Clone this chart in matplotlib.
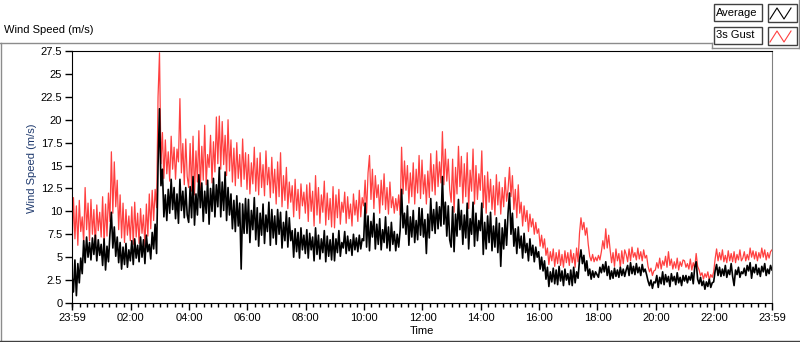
import numpy as np
import matplotlib.pyplot as plt
from matplotlib.lines import Line2D
from matplotlib.patches import Rectangle

plt.rcParams['font.family'] = ['Liberation Sans', 'DejaVu Sans']
plt.rcParams['font.size'] = 8

# wind speed (m/s), one reading every 3 minutes from 23:59 to 23:59 (one row per hour)
gust = [
    5.6, 11.5, 7.0, 10.6, 6.3, 11.2, 7.8, 9.4, 6.6, 12.6, 8.0, 10.9, 6.8, 11.3, 7.5, 10.2, 6.1, 10.7, 7.9, 9.9,
    7.2, 11.6, 6.4, 10.8, 7.3, 12.0, 8.9, 16.5, 9.8, 15.4, 10.5, 13.4, 8.0, 11.8, 7.1, 10.9, 6.6, 10.2, 7.4, 9.5,
    6.8, 10.5, 6.4, 11.0, 7.2, 9.8, 6.5, 10.3, 7.6, 9.6, 6.2, 10.8, 7.3, 11.9, 8.1, 12.3, 9.0, 12.4, 10.4, 22.5,
    27.3, 15.2, 18.6, 13.6, 17.8, 14.1, 16.5, 13.3, 18.2, 14.6, 17.0, 13.5, 16.8, 15.4, 22.3, 14.2, 17.4, 12.9, 17.9, 13.8,
    12.6, 17.4, 12.2, 18.2, 11.8, 16.6, 13.2, 18.8, 12.4, 17.1, 13.4, 19.4, 12.9, 16.2, 14.8, 18.3, 13.1, 17.6, 14.3, 20.3,
    15.2, 20.4, 14.6, 19.8, 15.1, 18.3, 13.9, 20.0, 14.4, 17.8, 13.2, 16.9, 12.8, 17.5, 13.6, 16.2, 12.7, 17.9, 13.5, 16.4,
    12.4, 16.2, 11.9, 15.3, 13.0, 17.0, 12.2, 15.8, 11.8, 16.4, 12.6, 15.1, 11.7, 16.6, 12.9, 14.8, 11.5, 15.9, 12.0, 14.6,
    10.8, 15.4, 11.6, 16.4, 10.5, 13.9, 11.2, 14.8, 10.3, 13.2, 11.0, 12.8, 9.4, 13.5, 10.1, 12.4, 9.2, 13.0, 10.6, 12.1,
    9.8, 12.9, 8.9, 13.1, 10.0, 12.2, 8.4, 13.9, 9.6, 12.6, 8.7, 11.8, 9.9, 13.3, 8.5, 12.0, 9.1, 11.4, 8.3, 12.7,
    8.2, 11.8, 9.3, 12.4, 8.6, 11.0, 9.9, 12.1, 8.7, 11.6, 9.2, 10.8, 8.4, 11.9, 9.6, 11.2, 8.9, 12.3, 9.4, 11.5,
    10.6, 13.4, 9.8, 14.2, 16.1, 11.3, 14.6, 10.3, 13.9, 11.5, 12.9, 9.8, 13.4, 10.7, 14.1, 10.2, 12.6, 9.7, 13.2, 10.4,
    11.6, 9.8, 11.4, 10.1, 11.8, 9.6, 17.0, 11.9, 15.5, 12.3, 15.0, 10.9, 14.2, 11.6, 15.3, 10.8, 14.6, 12.0, 16.1, 11.4,
    15.6, 11.9, 14.0, 10.8, 14.4, 11.5, 16.3, 12.2, 15.1, 11.8, 16.6, 12.7, 15.4, 13.1, 18.7, 12.9, 16.8, 13.3, 15.7, 12.4,
    11.0, 15.7, 9.9, 14.8, 11.9, 17.1, 12.7, 16.0, 10.9, 15.2, 11.6, 16.4, 10.3, 14.5, 12.2, 16.8, 10.8, 15.0, 11.3, 14.1,
    12.3, 16.6, 10.4, 13.9, 9.8, 14.3, 11.0, 13.5, 10.2, 12.8, 9.6, 14.0, 10.7, 13.2, 9.7, 12.6, 10.5, 13.7, 11.1, 12.4,
    14.8, 11.6, 13.9, 10.2, 12.4, 9.3, 12.9, 9.8, 11.0, 8.4, 10.6, 8.9, 10.1, 7.8, 9.7, 8.3, 9.2, 7.5, 8.8, 7.6,
    8.1, 6.2, 7.4, 6.0, 7.0, 5.2, 6.0, 4.2, 5.6, 4.6, 5.9, 4.0, 5.5, 4.3, 5.8, 4.1, 5.3, 3.9, 5.7, 4.4,
    5.5, 4.1, 5.8, 4.4, 5.4, 3.9, 6.0, 4.5, 7.6, 9.3, 8.0, 8.8, 7.4, 8.2, 6.4, 5.1, 4.6, 5.3, 4.5, 5.0,
    4.6, 5.2, 4.7, 5.6, 6.8, 5.9, 8.1, 6.0, 7.4, 5.8, 4.4, 5.5, 4.0, 5.9, 4.6, 5.4, 3.9, 5.7, 4.3, 5.8,
    5.3, 4.5, 5.9, 4.6, 6.1, 5.0, 5.5, 4.7, 6.0, 4.8, 5.6, 4.6, 5.8, 4.9, 5.2, 4.0, 3.4, 3.8, 3.0, 3.5,
    3.6, 4.4, 3.8, 4.9, 3.7, 4.6, 4.1, 5.1, 3.9, 5.6, 4.1, 4.8, 3.7, 4.5, 3.8, 4.9, 3.6, 4.5, 4.0, 4.7,
    4.6, 3.9, 4.3, 3.7, 4.8, 3.6, 4.4, 3.8, 5.4, 4.0, 3.6, 3.0, 3.3, 2.6, 3.2, 2.8, 3.4, 2.5, 3.1, 2.8,
    3.4, 4.8, 5.9, 4.6, 5.5, 4.7, 5.8, 4.5, 5.2, 4.4, 5.7, 4.6, 5.4, 4.5, 5.6, 4.4, 5.3, 4.7, 5.8, 4.6,
    4.9, 5.6, 4.6, 5.3, 4.7, 6.0, 5.0, 5.7, 4.8, 5.6, 4.6, 5.5, 4.9, 6.0, 5.0, 5.8, 4.7, 5.5, 4.9, 5.6, 5.8,
]
average = [
    3.0, 1.2, 4.7, 0.8, 4.3, 2.2, 4.9, 3.2, 6.8, 4.4, 7.2, 5.0, 6.6, 4.7, 7.1, 5.3, 7.4, 4.6, 6.9, 5.2,
    6.4, 4.1, 7.0, 3.6, 6.2, 4.5, 7.5, 9.9, 6.0, 8.3, 5.1, 7.2, 4.4, 6.6, 3.7, 6.1, 4.2, 6.5, 3.9, 5.8,
    4.6, 6.8, 4.2, 7.0, 4.9, 6.3, 4.5, 7.2, 5.0, 6.9, 4.3, 7.4, 5.6, 6.4, 4.8, 7.7, 5.9, 8.6, 5.4, 15.0,
    21.2, 12.8, 14.6, 9.4, 11.8, 9.0, 12.4, 9.8, 13.5, 10.2, 12.6, 9.2, 11.9, 8.7, 13.5, 10.1, 12.2, 9.3, 12.6, 9.6,
    8.8, 12.7, 9.3, 13.8, 8.5, 11.9, 9.6, 14.0, 10.4, 13.1, 8.9, 12.2, 9.8, 13.4, 8.6, 12.5, 10.0, 13.6, 9.4, 12.9,
    10.5, 14.8, 9.4, 13.2, 10.1, 14.3, 9.0, 12.6, 9.6, 11.9, 8.1, 11.2, 7.8, 11.7, 8.4, 10.9, 3.7, 10.8, 7.6, 11.4,
    7.6, 11.3, 6.6, 10.1, 8.0, 11.5, 6.9, 10.4, 6.2, 9.8, 7.4, 10.8, 6.5, 9.6, 7.8, 11.0, 6.3, 10.2, 7.1, 9.5,
    6.4, 10.2, 7.5, 9.9, 6.0, 8.8, 6.8, 10.0, 6.1, 9.3, 6.8, 7.9, 5.0, 8.1, 5.6, 7.7, 4.9, 8.2, 5.8, 7.4,
    5.4, 8.0, 4.9, 7.6, 5.8, 7.2, 4.6, 8.2, 5.3, 7.4, 4.8, 7.0, 5.5, 7.9, 4.5, 7.3, 5.1, 6.9, 4.7, 7.6,
    4.6, 7.0, 5.5, 7.9, 5.1, 6.6, 6.0, 7.8, 5.4, 7.3, 5.7, 6.9, 5.2, 7.5, 5.8, 7.1, 5.6, 7.4, 5.9, 7.0,
    6.8, 10.9, 6.1, 9.5, 5.7, 8.9, 7.2, 9.8, 5.9, 8.6, 6.4, 9.2, 5.8, 8.0, 6.6, 9.4, 6.0, 8.3, 5.7, 8.8,
    6.4, 7.8, 5.7, 7.5, 6.1, 7.9, 12.4, 8.2, 9.8, 7.5, 10.6, 6.3, 9.4, 7.2, 10.1, 6.6, 9.0, 6.9, 10.4, 7.4,
    10.3, 7.2, 9.1, 5.4, 9.7, 7.1, 11.4, 7.9, 10.2, 7.6, 11.0, 8.1, 10.5, 8.4, 13.8, 8.6, 11.0, 7.3, 10.6, 6.9,
    6.1, 10.5, 5.6, 9.7, 7.3, 11.3, 8.0, 10.1, 6.4, 9.6, 7.1, 10.9, 5.9, 9.2, 7.5, 11.0, 6.2, 9.8, 6.8, 9.0,
    7.9, 10.9, 5.3, 8.8, 5.9, 9.5, 6.6, 9.9, 5.7, 8.4, 6.1, 9.3, 5.5, 8.7, 4.0, 8.2, 5.9, 9.1, 6.3, 9.8,
    12.0, 7.5, 9.8, 6.2, 8.1, 5.4, 8.3, 6.0, 7.3, 4.9, 7.6, 5.5, 6.5, 4.6, 7.0, 5.2, 6.3, 4.5, 6.1, 5.0,
    5.6, 3.7, 5.0, 3.5, 4.6, 2.6, 3.9, 1.8, 3.4, 2.3, 3.8, 2.1, 3.6, 2.0, 4.0, 2.4, 3.5, 1.9, 3.7, 2.5,
    3.2, 2.0, 3.6, 1.9, 3.9, 2.2, 3.4, 2.7, 4.7, 5.8, 4.3, 5.2, 3.5, 4.6, 3.0, 3.7, 2.6, 3.5, 2.8, 3.4,
    3.1, 2.8, 3.9, 3.3, 4.2, 3.4, 4.5, 3.0, 4.0, 2.6, 3.5, 2.7, 3.8, 2.9, 3.6, 2.8, 3.9, 3.0, 3.7, 2.9,
    3.6, 4.1, 3.0, 4.4, 3.2, 4.0, 3.1, 4.3, 3.3, 3.9, 3.0, 4.2, 3.4, 3.7, 3.1, 2.4, 1.9, 2.5, 1.6, 2.3,
    2.2, 3.0, 1.7, 2.8, 2.1, 3.4, 2.0, 3.1, 2.3, 2.9, 1.8, 3.2, 2.4, 2.9, 2.0, 3.3, 2.2, 2.8, 1.9, 3.0,
    2.4, 3.0, 2.2, 2.9, 2.5, 3.3, 2.1, 3.9, 4.5, 2.6, 2.1, 2.8, 1.9, 2.4, 1.5, 2.3, 1.8, 2.6, 1.7, 2.2,
    2.3, 3.5, 4.2, 3.0, 3.9, 2.9, 3.7, 3.0, 4.1, 2.8, 3.6, 3.1, 4.3, 2.9, 1.9, 3.6, 3.1, 3.9, 2.8, 3.4,
    3.2, 3.8, 3.0, 4.1, 3.5, 4.4, 2.7, 3.9, 3.3, 4.2, 3.1, 3.8, 2.9, 4.0, 3.4, 4.3, 3.0, 3.7, 3.2, 4.1, 3.6,
]

tick_labels = ['23:59', '02:00', '04:00', '06:00', '08:00', '10:00', '12:00',
               '14:00', '16:00', '18:00', '20:00', '22:00', '23:59']
tick_pos = [0] + [2 * i + 1 / 60 for i in range(1, 12)] + [24]
y_ticks = np.arange(0, 27.6, 2.5)

W, H = 800, 342
fig = plt.figure(figsize=(8, 3.42), dpi=100)


def fx(x):
    return x / W


def fy(y):
    return 1 - y / H


ax = fig.add_axes([fx(72), fy(303), fx(772) - fx(72), fy(51) - fy(303)])
ax.plot(np.linspace(0, 24, len(average)), average, color='black', lw=1.2, zorder=2)
ax.plot(np.linspace(0, 24, len(gust)), gust, color='#ff4040', lw=0.9, zorder=1)

ax.set_xlim(0, 24)
ax.set_ylim(0, 27.5)
ax.set_yticks(y_ticks)
ax.set_yticklabels([('%g' % v) for v in y_ticks])
ax.set_xticks(tick_pos)
ax.set_xticklabels(tick_labels)
ax.set_xticks(np.arange(1 / 60, 24, 0.25), minor=True)
ax.tick_params(axis='both', which='major', length=5, width=1, pad=2,
               labelsize=8, colors='black')
ax.tick_params(axis='x', which='minor', length=3, width=1)
ax.spines['right'].set_color('#808080')
ax.set_xlabel('Time', fontsize=8, labelpad=2)
ax.set_ylabel('Wind Speed (m/s)', fontsize=8, color='#1f3a6e')
ax.yaxis.set_label_coords(-0.05, 0.536)

# outer frame and panel title
grey = '#8c8c8c'
fig.add_artist(Line2D([fx(0), fx(712)], [fy(42.5), fy(42.5)], color=grey, lw=1))
fig.add_artist(Line2D([fx(712), fx(712)], [fy(42.5), fy(47.5)], color=grey, lw=1))
fig.add_artist(Line2D([fx(712), fx(799)], [fy(47.5), fy(47.5)], color=grey, lw=1))
fig.add_artist(Line2D([fx(799), fx(799)], [fy(0), fy(47.5)], color=grey, lw=1))
fig.add_artist(Line2D([fx(1), fx(1)], [fy(42.5), fy(341)], color=grey, lw=1))
fig.add_artist(Line2D([fx(0), fx(800)], [fy(341), fy(341)], color='#404040', lw=1))
fig.text(fx(4), fy(30), 'Wind Speed (m/s)', ha='left', va='center', fontsize=8)

# legend panel
legend_names = ['Average', '3s Gust']
legend_colors = ['black', '#ff4040']
for i, (name, col) in enumerate(zip(legend_names, legend_colors)):
    top = 4 + i * 23
    fig.add_artist(Rectangle((fx(714), fy(top + 17)), fx(48), fy(0) - fy(17),
                             fill=False, ec='#404040', lw=1))
    fig.text(fx(716), fy(top + 8.5), name, ha='left', va='center', fontsize=8)
    fig.add_artist(Rectangle((fx(768), fy(top + 18)), fx(29), fy(0) - fy(18),
                             fill=False, ec='#404040', lw=1))
    zx = [770, 777, 784, 791]
    zy = [top + 15, top + 4, top + 15, top + 4]
    fig.add_artist(Line2D([fx(v) for v in zx], [fy(v) for v in zy],
                          color=col, lw=0.8))

fig.savefig('out.png', dpi=100)
